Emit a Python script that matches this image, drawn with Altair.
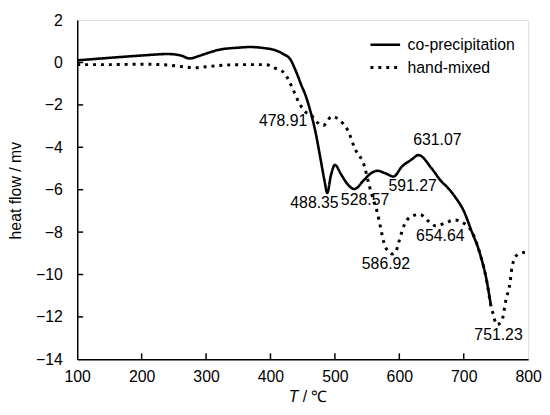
import altair as alt
import pandas as pd

FONT = "Liberation Sans"
FS = 16

# co-precipitation (solid)
cop_T = [100, 150, 200, 241, 262, 274, 290, 300, 320, 350, 368, 390, 405, 420, 431, 440, 447, 455,
         462, 470, 478, 484, 488, 494, 500, 510, 520, 530, 545, 555, 566, 580, 591, 604, 618, 630,
         650, 665, 675, 688, 700, 711, 726, 736, 742]
cop_v = [0.1, 0.22, 0.33, 0.4, 0.32, 0.19, 0.32, 0.42, 0.6, 0.7, 0.73, 0.68, 0.6, 0.4, 0.14, -0.45, -1.0, -1.6,
         -2.3, -3.3, -4.6, -5.6, -6.15, -5.3, -4.83, -5.3, -5.75, -5.97, -5.55, -5.25, -5.11, -5.25, -5.38, -4.91, -4.6, -4.37,
         -4.99, -5.6, -5.9, -6.4, -7.0, -7.86, -9.1, -10.35, -11.44]

# hand-mixed (dotted)
hm_T = [100, 150, 200, 240, 270, 281, 300, 330, 360, 393, 406, 421, 436, 444, 452, 464,
        470, 482, 495, 508, 520, 531, 546, 553, 558, 566, 571, 576, 584, 589, 594, 599,
        607, 619, 632, 645, 657, 673, 685, 700, 711, 726, 736, 742, 746, 751, 759, 765,
        772, 775, 782, 795]
hm_v = [-0.1, -0.1, -0.08, -0.12, -0.22, -0.25, -0.2, -0.12, -0.1, -0.1, -0.25, -0.48, -1.34, -1.88, -2.27, -2.5,
        -2.74, -2.97, -2.55, -2.74, -3.2, -4.06, -4.91, -5.77, -6.3, -7.1, -7.8, -8.49, -8.95, -9.03, -8.95, -8.49,
        -7.71, -7.25, -7.17, -7.48, -7.71, -7.55, -7.43, -7.58, -7.9, -9.1, -10.35, -11.44, -11.9, -12.37, -12.2, -11.28,
        -10.35, -9.65, -9.1, -8.95]

series_names = ["co-precipitation", "hand-mixed"]

# peak annotations
lab_text = ["478.91", "488.35", "528.57", "591.27", "631.07", "586.92", "654.64", "751.23"]
lab_T = [419.7, 468.3, 546.8, 620.6, 659.0, 579.3, 663.6, 754.0]
lab_v = [-2.78, -6.65, -6.5, -5.85, -3.65, -9.53, -8.18, -12.84]

x_ticks = [100, 200, 300, 400, 500, 600, 700, 800]
y_ticks = [2, 0, -2, -4, -6, -8, -10, -12, -14]

W, H = 456, 343

df = pd.concat([
    pd.DataFrame({"T": cop_T, "v": cop_v, "s": series_names[0]}),
    pd.DataFrame({"T": hm_T, "v": hm_v, "s": series_names[1]}),
])
labels = pd.DataFrame({"t": lab_text, "T": lab_T, "v": lab_v})
xt = pd.DataFrame({"T": x_ticks[1:-1]})
yt = pd.DataFrame({"v": y_ticks[1:-1]})

xs = alt.Scale(domain=[100, 800], nice=False, zero=False)
ys = alt.Scale(domain=[-14, 2], nice=False, zero=False)

lines = alt.Chart(df).mark_line(color="black", strokeCap="butt", clip=True, interpolate="monotone").encode(
    x=alt.X("T:Q", scale=xs, axis=alt.Axis(values=x_ticks, title=None, labelFont=FONT,
            labelFontSize=FS, labelColor="black", ticks=False, labelPadding=9, labelFlush=False,
            domainColor="black", domainWidth=1.5, grid=False)),
    y=alt.Y("v:Q", scale=ys, axis=alt.Axis(values=y_ticks, title="heat flow / mv", labelFont=FONT,
            labelFontSize=FS, labelColor="black", ticks=False, labelPadding=15, labelFlush=False,
            domainColor="black", domainWidth=1.5, grid=False,
            titleFont=FONT, titleFontSize=FS, titleFontWeight="normal", titleColor="black",
            titleX=-62, titleY=172, titleAngle=270, titleAlign="center", titleBaseline="middle")),
    strokeDash=alt.StrokeDash("s:N", scale=alt.Scale(domain=series_names, range=[[1, 0], [3, 5]]),
            legend=alt.Legend(title=None, orient="none", legendX=295, legendY=16,
                              symbolType="stroke", symbolSize=900, symbolStrokeWidth=3,
                              symbolStrokeColor="black", labelFont=FONT, labelFontSize=FS,
                              labelColor="black", labelOffset=6, clipHeight=18, rowPadding=5)),
    strokeWidth=alt.StrokeWidth("s:N", scale=alt.Scale(domain=series_names, range=[2.6, 3]), legend=None),
    detail="s:N",
)

texts = alt.Chart(labels).mark_text(font=FONT, fontSize=FS, color="black", align="center",
                                     baseline="middle").encode(
    x=alt.X("T:Q", scale=xs), y=alt.Y("v:Q", scale=ys), text="t:N")

xtick = alt.Chart(xt).mark_rule(color="black", strokeWidth=1.5).encode(
    x=alt.X("T:Q", scale=xs), y=alt.value(H), y2=alt.value(H - 6))
ytick = alt.Chart(yt).mark_rule(color="black", strokeWidth=1.5).encode(
    y=alt.Y("v:Q", scale=ys), x=alt.value(0), x2=alt.value(6))

xtitle_T = alt.Chart(pd.DataFrame({"t": ["T"]})).mark_text(
    font=FONT, fontSize=FS, fontStyle="italic", color="black", align="left", baseline="middle"
).encode(x=alt.value(214), y=alt.value(381), text="t:N")
xtitle_rest = alt.Chart(pd.DataFrame({"t": ["/ ℃"]})).mark_text(
    font=FONT, fontSize=FS, color="black", align="left", baseline="middle"
).encode(x=alt.value(228), y=alt.value(381), text="t:N")

chart = alt.layer(lines, texts, xtick, ytick, xtitle_T, xtitle_rest).properties(
    width=W, height=H,
    padding={"left": 70, "top": 10, "right": 14, "bottom": 46},
    autosize="none",
).configure_view(stroke="black", strokeWidth=1.5).configure(background="white")

chart.save("out.html", embed_options={"renderer": "svg", "actions": False})
